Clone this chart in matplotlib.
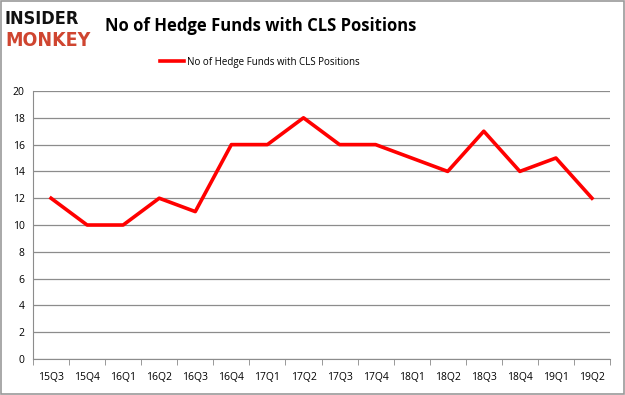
import matplotlib
matplotlib.use("Agg")
import matplotlib.pyplot as plt
from matplotlib.patches import Rectangle

# data
quarters = ["15Q3", "15Q4", "16Q1", "16Q2", "16Q3", "16Q4", "17Q1", "17Q2",
            "17Q3", "17Q4", "18Q1", "18Q2", "18Q3", "18Q4", "19Q1", "19Q2"]
funds = [12, 10, 10, 12, 11, 16, 16, 18, 16, 16, 15, 14, 17, 14, 15, 12]
yticks = [0, 2, 4, 6, 8, 10, 12, 14, 16, 18, 20]
series_name = "No of Hedge Funds with CLS Positions"

plt.rcParams['font.family'] = ['Open Sans', 'DejaVu Sans']

fig = plt.figure(figsize=(6.25, 3.95), dpi=100)
ax = fig.add_axes([0.0528, 0.0911, 0.9232, 0.6785])

x = list(range(len(quarters)))
line, = ax.plot(x, funds, color="#ff0000", linewidth=2.6, label=series_name)

ax.set_xlim(-0.5, len(quarters) - 0.5)
ax.set_ylim(0, 20)
ax.set_yticks(yticks)
ax.set_xticks(x)
ax.set_xticklabels(quarters, fontsize=7.5)
ax.tick_params(axis="x", length=0, pad=9)
ax.tick_params(axis="y", length=0, labelsize=7.5, pad=6)
# boundary ticks between categories
ax.set_xticks([i - 0.5 for i in range(len(quarters) + 1)], minor=True)
ax.tick_params(axis="x", which="minor", length=4, color="#888888")
ax.grid(axis="y", color="#8c8c8c", linewidth=0.9)
ax.set_axisbelow(True)
for s in ["top", "right"]:
    ax.spines[s].set_visible(False)
ax.spines["left"].set_color("#8c8c8c")
ax.spines["bottom"].set_color("#8c8c8c")

# title and legend
fig.text(0.168, 0.933, series_name, fontsize=12, fontweight="bold",
         ha="left", va="center")
fig.legend(handles=[line], loc="center", bbox_to_anchor=(0.416, 0.843),
           frameon=False, fontsize=7, handlelength=2.4, handletextpad=0.3)

# logo
fig.text(0.008, 0.952, "INSIDER", fontsize=13, fontweight="heavy",
         color="#111111", ha="left", va="center", family="DejaVu Sans",
         fontstretch="condensed")
fig.text(0.008, 0.898, "MONKEY", fontsize=14, fontweight="heavy",
         color="#cf4530", ha="left", va="center", family="DejaVu Sans",
         fontstretch="condensed")

# outer border
fig.patches.append(Rectangle((0.001, 0.002), 0.997, 0.995, transform=fig.transFigure,
                             fill=False, edgecolor="#999999", linewidth=1.2))

fig.savefig("out.png", dpi=100)
